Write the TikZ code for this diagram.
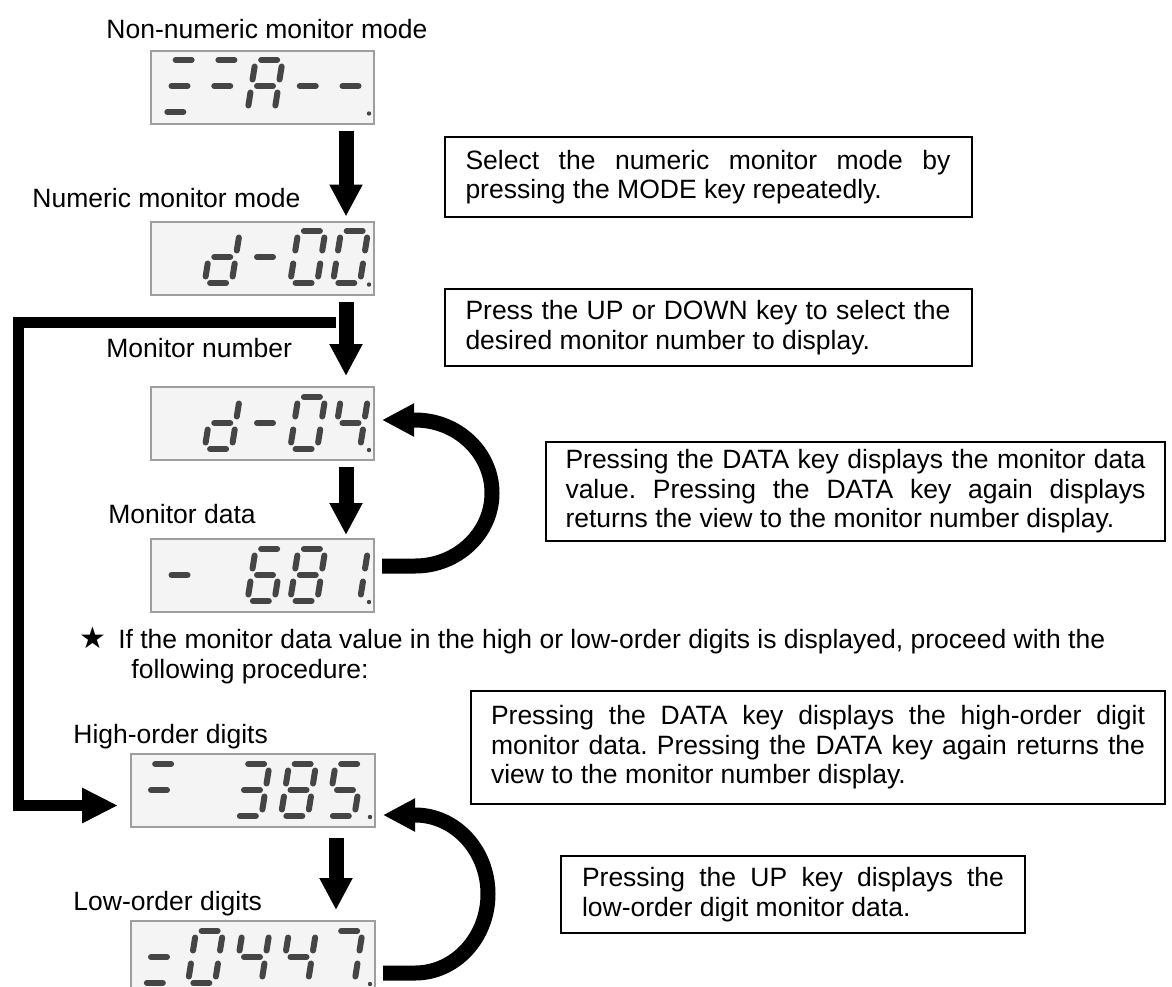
\documentclass[tikz,border=0pt]{standalone}
\usepackage{fontspec}
\setmainfont{Liberation Sans}
\newfontfamily\starfont{DejaVu Sans}
\usetikzlibrary{arrows.meta}
\definecolor{segcol}{HTML}{454545}
\definecolor{lcdfill}{HTML}{F4F4F4}
\definecolor{lcdedge}{HTML}{9E9E9E}
\newcommand{\boxfont}{\fontsize{13.25pt}{14.75pt}\selectfont\frenchspacing
  \hyphenpenalty=10000 \exhyphenpenalty=10000 }
\tikzset{
  lcd/.style={draw=lcdedge,fill=lcdfill,line width=1pt,inner sep=0pt},
  segline/.style={draw=segcol,line width=3pt,line cap=round},
  infobox/.style={draw,line width=1pt,inner xsep=10.5pt,inner ysep=0pt,align=justify,
    font=\boxfont},
  lbl/.style={inner sep=0pt,anchor=base west,font=\fontsize{13.25pt}{15pt}\selectfont},
  flow/.style={line width=7.5pt,-{Triangle[width=15.5pt,length=16pt]}},
  back/.style={flow},
  fb/.style={line width=5.5pt,-{Triangle[width=16.5pt,length=18pt]}},
}
% one row of seven-segment digits: x of first digit, pitch, top of display, pos/segments
\newcommand{\lcdrow}[4]{%
  \foreach \p/\s in {#4} {
    \begin{scope}[shift={({#1+(\p-1)*#2},{#3+36})},y=0.5pt,xslant=0.16]
      \coordinate (sa1) at (-8,26);     \coordinate (sa2) at (8,26);
      \coordinate (sb1) at (13.5,6.5);  \coordinate (sb2) at (13.5,19.5);
      \coordinate (sc1) at (13.5,-6.5); \coordinate (sc2) at (13.5,-19.5);
      \coordinate (sd1) at (-8,-26);    \coordinate (sd2) at (8,-26);
      \coordinate (se1) at (-13.5,-6.5);\coordinate (se2) at (-13.5,-19.5);
      \coordinate (sf1) at (-13.5,6.5); \coordinate (sf2) at (-13.5,19.5);
      \coordinate (sg1) at (-8,0);      \coordinate (sg2) at (8,0);
      \foreach \k in \s {\draw[segline] (s\k1) -- (s\k2);}
    \end{scope}}}

\begin{document}
\begin{tikzpicture}[x=0.5pt,y=-0.5pt]
  \useasboundingbox[fill=white] (0,0) rectangle (1172,986);

  % displays
  \node[lcd,minimum width=111.5pt,minimum height=36.5pt] (disp1) at (262.5,87) {};
  \node[lcd,minimum width=111.5pt,minimum height=36.5pt] (disp2) at (262.5,258) {};
  \node[lcd,minimum width=111.5pt,minimum height=36.5pt] (disp3) at (262.5,423.5) {};
  \node[lcd,minimum width=111.5pt,minimum height=36.5pt] (disp4) at (262.5,575.5) {};
  \node[lcd,minimum width=122pt,minimum height=36.5pt] (disp5) at (253,790.5) {};
  \node[lcd,minimum width=122pt,minimum height=36.5pt] (disp6) at (253,957.5) {};
  \lcdrow{179.5}{42.75}{50}{1/{a,g,d},2/{a,g},3/{a,b,c,e,f,g},4/g,5/g}
  \lcdrow{179.5}{42.75}{221}{2/{b,c,d,e,g},3/g,4/{a,b,c,d,e,f},5/{a,b,c,d,e,f}}
  \lcdrow{179.5}{42.75}{387}{2/{b,c,d,e,g},3/g,4/{a,b,c,d,e,f},5/{b,c,f,g}}
  \lcdrow{179.5}{42.75}{539}{1/g,3/{a,c,d,e,f,g},4/{a,b,c,d,e,f,g},5/{b,c}}
  \lcdrow{159}{46.5}{754}{1/{a,g},3/{a,b,c,d,g},4/{a,b,c,d,e,f,g},5/{a,c,d,f,g}}
  \lcdrow{159}{46.5}{921}{1/{g,d},2/{a,b,c,d,e,f},3/{b,c,f,g},4/{b,c,f,g},5/{a,b,c}}
  \foreach \d in {disp1,disp2,disp3,disp4,disp5,disp6}
    \fill[segcol] ([xshift=-3pt,yshift=5.5pt]\d.south east) circle (1.1pt);

  % labels
  \node[lbl] (l1) at (106,38) {Non-numeric monitor mode};
  \node[lbl] (l2) at (32,207) {Numeric monitor mode};
  \node[lbl] (l3) at (106,357) {Monitor number};
  \node[lbl] (l4) at (108,523) {Monitor data};
  \node[lbl] (l5) at (73,743) {High-order digits};
  \node[lbl] (l6) at (73,910) {Low-order digits};
  \node[lbl,align=left] (n1) at (79,678) {{\starfont\fontsize{15pt}{15pt}\selectfont ★}\hspace{6pt}If the monitor data value in the high or low-order digits is displayed, proceed with the\\\hspace*{26pt}following procedure:};

  % explanation boxes
  \node[infobox,text width=242.5pt,minimum height=40pt] (b1) at (708,177)
    {Select the numeric monitor mode by\linebreak pressing the MODE key repeatedly.};
  \node[infobox,text width=242.5pt,minimum height=38.5pt] (b2) at (708,327.5)
    {Press the UP or DOWN key to select the\linebreak desired monitor number to display.};
  \node[infobox,text width=290pt,inner xsep=9.75pt,minimum height=49.5pt] (b3) at (855.5,491.5)
    {Pressing the DATA key displays the monitor data\linebreak value. Pressing the DATA key again displays\linebreak returns the view to the monitor number display.};
  \node[infobox,text width=327pt,inner xsep=10pt,minimum height=56.5pt] (b4) at (818,747.5)
    {Pressing the DATA key displays the high-order digit\linebreak monitor data. Pressing the DATA key again returns the\linebreak view to the monitor number display.};
  \node[infobox,text width=211pt,minimum height=38.5pt] (b5) at (793,894.5)
    {Pressing the UP key displays the\linebreak low-order digit monitor data.};

  % arrows
  \coordinate (c1) at (346,0); \coordinate (c2) at (336,0);
  \draw[flow,shorten <=3pt,shorten >=2pt] (disp1.south -| c1) -- (disp2.north -| c1);
  \draw[flow,shorten <=3pt,shorten >=5pt] (disp2.south -| c1) -- (disp3.north -| c1);
  \draw[flow,shorten <=3pt,shorten >=1.5pt] (disp3.south -| c1) -- (disp4.north -| c1);
  \draw[flow,shorten <=5pt,shorten >=5pt] (disp5.south -| c2) -- (disp6.north -| c2);
  \coordinate (j) at (336,322.5);
  \draw[fb,shorten >=6pt] (j) -- ++(-317.5,0) |- ([yshift=-7.5pt]disp5.west);
  \draw[back,shorten <=3.5pt,shorten >=3.5pt] ([yshift=4.75pt]disp4.east) -- ++(40,0)
    .. controls +(42.5,0) and +(0,40.3) .. ++(77,-73)
    .. controls +(0,-40.3) and +(42.5,0) .. ++(-77,-73) -- ([yshift=1.75pt]disp3.east);
  \draw[back,shorten <=3.5pt,shorten >=3.5pt] ([yshift=-7.75pt]disp6.east) -- ++(39,0)
    .. controls +(40.3,0) and +(0,43.6) .. ++(73,-79)
    .. controls +(0,-43.6) and +(40.3,0) .. ++(-73,-79) -- ([yshift=-12.25pt]disp5.east);
\end{tikzpicture}
\end{document}
